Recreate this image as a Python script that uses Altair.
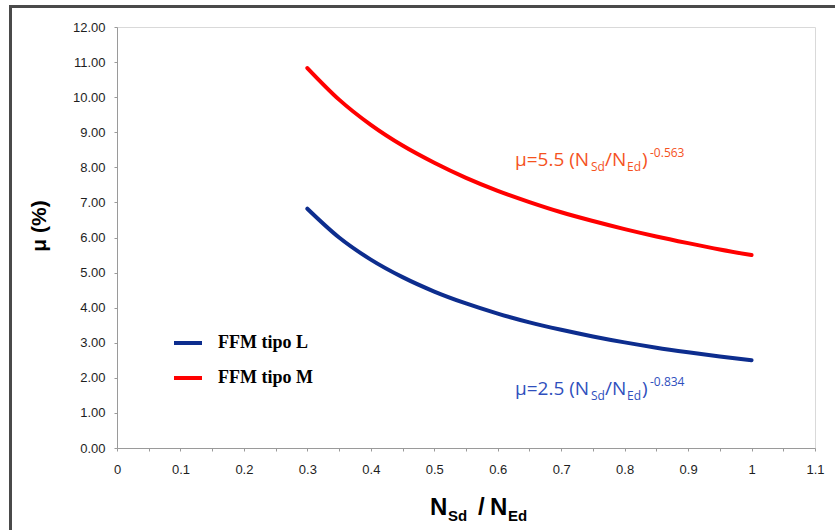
import altair as alt
import pandas as pd

# ---- data ----
ratio = [0.30, 0.35, 0.40, 0.45, 0.50, 0.55, 0.60, 0.65, 0.70, 0.75, 0.80, 0.85, 0.90, 0.95, 1.00]
mu_L = [6.82, 6.00, 5.37, 4.87, 4.46, 4.12, 3.83, 3.58, 3.37, 3.18, 3.01, 2.86, 2.73, 2.61, 2.50]
mu_M = [10.83, 9.93, 9.21, 8.62, 8.13, 7.70, 7.33, 7.01, 6.72, 6.47, 6.24, 6.03, 5.84, 5.66, 5.50]
series = ["FFM tipo L", "FFM tipo M"]
x_ticks = [0, 0.05, 0.1, 0.15, 0.2, 0.25, 0.3, 0.35, 0.4, 0.45, 0.5, 0.55,
           0.6, 0.65, 0.7, 0.75, 0.8, 0.85, 0.9, 0.95, 1.0, 1.05, 1.1]
y_ticks = [0, 1, 2, 3, 4, 5, 6, 7, 8, 9, 10, 11, 12]

df = pd.DataFrame({
    "ratio": ratio + ratio,
    "mu": mu_L + mu_M,
    "serie": [series[0]] * len(ratio) + [series[1]] * len(ratio),
})

BLUE = "#0d2d8e"
RED = "#ff0000"
RED_TXT = "#f5521e"
BLUE_TXT = "#2f4fbd"

W, H = 698, 421
OX, OY = 117, 27

axis_common = dict(
    title=None, grid=False, domainColor="#9a9a9a", tickColor="#9a9a9a",
    tickSize=3, labelFont="Liberation Sans", labelFontSize=13,
    labelColor="#1e1e1e", labelFlush=False, labelOverlap=False,
)

lines = alt.Chart(df).mark_line(strokeWidth=4, strokeCap="round", interpolate="monotone").encode(
    x=alt.X("ratio:Q", scale=alt.Scale(domain=[0, 1.1], nice=False, zero=False),
            axis=alt.Axis(values=x_ticks, labelPadding=12,
                          labelExpr="round(datum.value*20) % 2 == 0 ? format(datum.value, '~g') : ''",
                          **axis_common)),
    y=alt.Y("mu:Q", scale=alt.Scale(domain=[0, 12], nice=False),
            axis=alt.Axis(values=y_ticks, format=".2f", labelPadding=9, **axis_common)),
    color=alt.Color("serie:N", scale=alt.Scale(domain=series, range=[BLUE, RED]),
                    legend=alt.Legend(orient="none", legendX=55, legendY=300, title=None,
                                      symbolType="stroke", symbolSize=784, symbolStrokeWidth=4,
                                      labelFont="Liberation Serif", labelFontWeight="bold",
                                      labelFontSize=18, labelColor="black", labelOffset=14,
                                      rowPadding=10, padding=0)),
)


def txt(s, px, py, size, color, weight="normal", font="Open Sans", align="left",
        baseline="alphabetic", angle=0):
    return alt.Chart(pd.DataFrame({"t": [s]})).mark_text(
        align=align, baseline=baseline, fontSize=size, font=font,
        fontWeight=weight, color=color, angle=angle,
    ).encode(x=alt.value(px - OX), y=alt.value(py - OY), text="t:N")


frame = alt.Chart(pd.DataFrame({"a": [0]})).mark_rect(
    fillOpacity=0, stroke="#4a4a4a", strokeWidth=3
).encode(x=alt.value(10.5 - OX), x2=alt.value(900), y=alt.value(6.5 - OY), y2=alt.value(700))


def formula(coef, expo, dy, color):
    base = 166 + dy
    return [
        txt("\u03bc=" + coef + " (N", 515, base, 19, color),
        txt("Sd", 591, base + 5, 12, color),
        txt("/N", 605, base, 19, color),
        txt("Ed", 627, base + 5, 12, color),
        txt(")", 642, base, 19, color),
        txt(expo, 650, base - 9, 12, color),
    ]


texts = []
texts += formula("5.5", "-0.563", 0, RED_TXT)
texts += formula("2.5", "-0.834", 229, BLUE_TXT)

# x axis title N_Sd / N_Ed
TF = "Liberation Sans"
texts += [
    txt("N", 430, 515, 24, "black", "bold", TF),
    txt("Sd", 448, 521, 15, "black", "bold", TF),
    txt("/", 478, 515, 24, "black", "bold", TF),
    txt("N", 490, 515, 24, "black", "bold", TF),
    txt("Ed", 508, 521, 15, "black", "bold", TF),
]
# y axis title
texts.append(txt("\u03bc (%)", 40, 226, 21, "black", "bold", TF, align="center",
                 baseline="middle", angle=270))

chart = alt.layer(frame, lines, *texts).properties(
    width=W, height=H,
    autosize=alt.AutoSizeParams(type="none"),
    padding={"left": OX, "top": OY, "right": 835 - OX - W, "bottom": 530 - OY - H},
    background="white",
).configure_view(stroke="#d9d9d9", strokeWidth=1)

chart.save("out.html", embed_options={"renderer": "svg", "actions": False})
